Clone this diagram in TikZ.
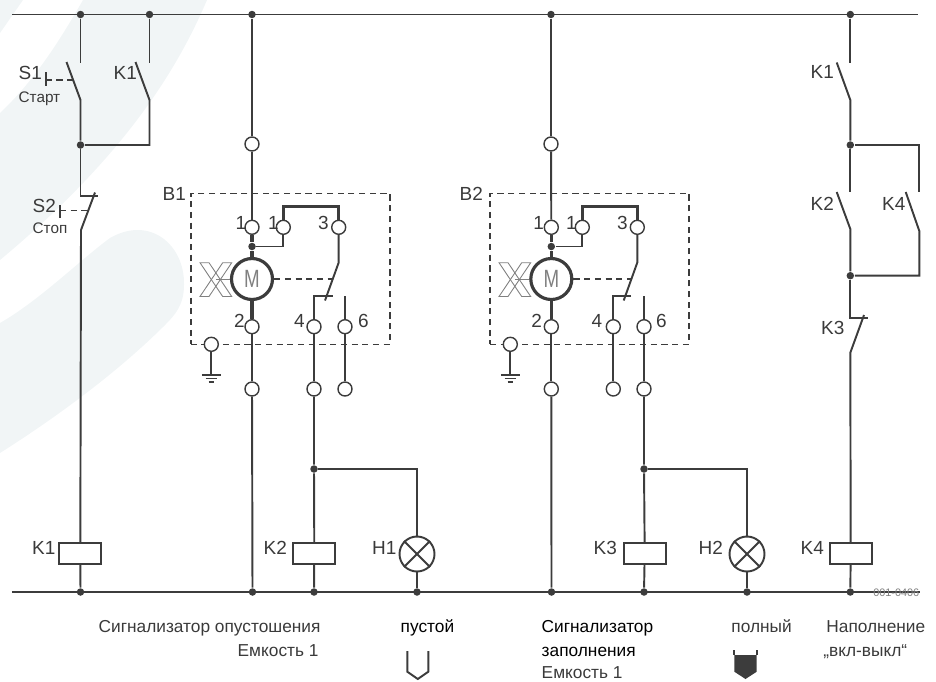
\documentclass[tikz,border=0pt]{standalone}
\usepackage{fontspec}
\setmainfont{Liberation Sans}
\definecolor{wirecol}{HTML}{3C3C3C}
\definecolor{paper}{HTML}{F1F5F6}
\definecolor{txtcol}{HTML}{3A3A3A}
\tikzset{
  wire/.style={draw=wirecol,line width=0.55pt},
  heavy/.style={draw=wirecol,line width=0.9pt},
  thinwire/.style={draw=wirecol,line width=0.4pt},
  dashline/.style={draw=wirecol,line width=0.45pt,dash pattern=on 1.75pt off 1.3pt},
  dot/.style={shape=circle,fill=wirecol,inner sep=0pt,minimum size=0.075cm},
  term/.style={shape=circle,draw=wirecol,fill=white,line width=0.4pt,inner sep=0pt,minimum size=0.14cm},
  coil/.style={shape=rectangle,wire,fill=white,inner sep=0pt,minimum width=0.42cm,minimum height=0.21cm},
  lamp/.style={shape=circle,wire,fill=white,inner sep=0pt,minimum size=0.35cm},
  motor/.style={shape=circle,heavy,fill=white,inner sep=0pt,minimum size=0.41cm,text=gray,font=\fontsize{7.1}{8}\selectfont},
  sensorbox/.style={shape=rectangle,dashline,inner sep=0pt,minimum width=1.993cm,minimum height=1.51cm},
  lab/.style={text=txtcol,inner sep=0pt,font=\fontsize{5.4}{6.4}\selectfont},
  sublab/.style={text=txtcol,inner sep=0pt,font=\fontsize{4.35}{5.2}\selectfont},
  captxt/.style={text=txtcol,inner sep=0pt,font=\fontsize{4.92}{6}\selectfont},
  capdark/.style={captxt,text=black},
  vane/.style={draw=gray,line width=0.25pt}
}
\begin{document}
\begin{tikzpicture}[x=1cm,y=-1cm]
    \useasboundingbox (0,0) rectangle (9.36,6.81);
    % pale background
    \fill [paper] (0,0) -- (0.23,0) -- (0,0.33) -- cycle;
    \fill [paper] (0.83,0) -- (2.07,0) .. controls (1.75,0.75) and (1.2,1.6) .. (0,2.6) -- (0,1.13) .. controls (0.35,0.8) and (0.6,0.4) .. (0.83,0) -- cycle;
    \fill [paper] (0,3.23) .. controls (0.4,3) and (0.8,2.6) .. (1.1,2.38) .. controls (1.5,2.15) and (1.85,2.45) .. (1.84,2.85) .. controls (1.84,3.05) and (1.75,3.15) .. (1.65,3.25) .. controls (1.2,3.7) and (0.6,4.15) .. (0,4.53) -- cycle;

    % buses
    \coordinate (TopLeft) at (0.12,0.145);
    \coordinate (TopRight) at (9.18,0.145);
    \coordinate (BotLeft) at (0.12,5.92);
    \coordinate (BotRight) at (9.2,5.92);
    \draw [wire] (TopLeft) -- (TopRight);
    \draw [wire] (BotLeft) -- (BotRight);
    \node[dot] (TopA) at (0.805,0.145) {};
    \node[dot] (TopB) at (1.495,0.145) {};
    \node[dot] (TopC) at (2.52,0.145) {};
    \node[dot] (TopD) at (5.51,0.145) {};
    \node[dot] (TopE) at (8.503,0.145) {};
    \node[dot] (BotA) at (0.805,5.92) {};
    \node[dot] (BotC) at (2.525,5.92) {};
    \node[dot] (BotK2) at (3.14,5.92) {};
    \node[dot] (BotH1) at (4.17,5.92) {};
    \node[dot] (BotD) at (5.515,5.92) {};
    \node[dot] (BotK3) at (6.44,5.92) {};
    \node[dot] (BotH2) at (7.47,5.92) {};
    \node[dot] (BotE) at (8.503,5.92) {};

    % start and stop branch
    \coordinate (S1Open) at (0.805,0.625);
    \coordinate (S1Tip) at (0.665,0.62);
    \coordinate (S1Hinge) at (0.805,1.0);
    \coordinate (K1Open) at (1.495,0.625);
    \coordinate (K1Tip) at (1.355,0.62);
    \coordinate (K1Hinge) at (1.495,1.0);
    \coordinate (K1Corner) at (1.495,1.45);
    \node[dot] (JoinA) at (0.805,1.45) {};
    \coordinate (S2Rest) at (0.805,1.957);
    \coordinate (S2Stop) at (0.98,1.957);
    \coordinate (S2Tip) at (0.95,1.925);
    \coordinate (S2Hinge) at (0.81,2.3);
    \node[coil] (CoilK1) at (0.803,5.535) {};
    \draw [wire] (TopA) -- (S1Open);
    \draw [wire] (S1Tip) -- (S1Hinge) -- (JoinA);
    \draw [wire] (TopB) -- (K1Open);
    \draw [wire] (K1Tip) -- (K1Hinge) -- (K1Corner) -- (JoinA);
    \draw [wire] (JoinA) -- (S2Rest) -- (S2Stop);
    \draw [wire] (S2Tip) -- (S2Hinge) -- (CoilK1);
    \draw [wire] (CoilK1) -- (BotA);

    % push buttons
    \coordinate (S1PushA) at (0.457,0.72);
    \coordinate (S1PushB) at (0.457,0.86);
    \coordinate (S1PushC) at (0.457,0.8);
    \coordinate (S1PushD) at (0.73,0.8);
    \coordinate (S2PushA) at (0.6,2.05);
    \coordinate (S2PushB) at (0.6,2.18);
    \coordinate (S2PushC) at (0.6,2.105);
    \coordinate (S2PushD) at (0.875,2.105);
    \draw [wire] (S1PushA) -- (S1PushB);
    \draw [dashline] (S1PushC) -- (S1PushD);
    \draw [wire] (S2PushA) -- (S2PushB);
    \draw [dashline] (S2PushC) -- (S2PushD);

    % sensor B1
    \node[sensorbox] (BoxB1) at (2.904,2.688) {};
    \node[term] (InB1) at (2.52,1.44) {};
    \node[term] (TermOneB1) at (2.52,2.273) {};
    \node[term] (TermOneBisB1) at (2.833,2.273) {};
    \node[term] (TermThreeB1) at (3.387,2.273) {};
    \node[term] (TermTwoB1) at (2.52,3.267) {};
    \node[term] (TermFourB1) at (3.14,3.267) {};
    \node[term] (TermSixB1) at (3.45,3.267) {};
    \node[term] (GndB1) at (2.113,3.443) {};
    \node[term] (OutTwoB1) at (2.52,3.89) {};
    \node[term] (OutFourB1) at (3.14,3.89) {};
    \node[term] (OutSixB1) at (3.45,3.89) {};
    \node[dot] (JoinB1) at (2.52,2.465) {};
    \node[motor] (MotorB1) at (2.52,2.79) {\scalebox{0.75}[1]{M}};
    \coordinate (BridgeAB1) at (2.833,2.065);
    \coordinate (BridgeBB1) at (3.387,2.065);
    \coordinate (LinkB1) at (2.833,2.465);
    \coordinate (HingeB1) at (3.387,2.625);
    \coordinate (TipB1) at (3.25,3.005);
    \coordinate (RestLB1) at (3.14,2.96);
    \coordinate (RestRB1) at (3.327,2.96);
    \coordinate (OpenB1) at (3.45,2.96);
    \coordinate (DashB1) at (3.317,2.79);
    \draw [wire] (TopC) -- (InB1);
    \draw [wire] (InB1) -- (TermOneB1);
    \draw [heavy] (TermOneB1) -- (JoinB1) -- (MotorB1);
    \draw [heavy] (MotorB1) -- (TermTwoB1);
    \draw [heavy] (TermOneBisB1) -- (BridgeAB1) -- (BridgeBB1) -- (TermThreeB1);
    \draw [wire] (JoinB1) -- (LinkB1) -- (TermOneBisB1);
    \draw [wire] (TermThreeB1) -- (HingeB1) -- (TipB1);
    \draw [wire] (RestRB1) -- (RestLB1) -- (TermFourB1);
    \draw [wire] (OpenB1) -- (TermSixB1);
    \draw [dashline] (MotorB1) -- (DashB1);
    \draw [wire] (TermTwoB1) -- (OutTwoB1);
    \draw [wire] (TermFourB1) -- (OutFourB1);
    \draw [wire] (TermSixB1) -- (OutSixB1);
    \draw [wire] (OutTwoB1) -- (BotC);

    % paddle of B1
    \coordinate (PaddleB1) at (2.159,2.79);
    \draw [vane] (2.0,2.627) -- (2.09,2.627) -- (2.317,2.965) -- (2.227,2.965) -- cycle;
    \draw [vane] (2.317,2.627) -- (2.227,2.627) -- (2.0,2.965) -- (2.09,2.965) -- cycle;
    \draw [vane] (PaddleB1) -- (MotorB1);

    % ground of B1
    \coordinate (GndFootB1) at (2.113,3.75);
    \coordinate (GndAB1) at (2.018,3.75);
    \coordinate (GndBB1) at (2.205,3.75);
    \coordinate (GndCB1) at (2.055,3.785);
    \coordinate (GndDB1) at (2.17,3.785);
    \coordinate (GndEB1) at (2.085,3.82);
    \coordinate (GndFB1) at (2.14,3.82);
    \draw [wire] (GndB1) -- (GndFootB1);
    \draw [wire] (GndAB1) -- (GndBB1);
    \draw [thinwire] (GndCB1) -- (GndDB1);
    \draw [thinwire] (GndEB1) -- (GndFB1);

    % outputs of B1
    \node[dot] (JoinK2) at (3.14,4.69) {};
    \node[coil] (CoilK2) at (3.143,5.535) {};
    \node[lamp] (LampH1) at (4.17,5.54) {};
    \coordinate (CornerH1) at (4.17,4.69);
    \draw [wire] (OutFourB1) -- (JoinK2) -- (CoilK2);
    \draw [wire] (CoilK2) -- (BotK2);
    \draw [wire] (JoinK2) -- (CornerH1) -- (LampH1);
    \draw [wire] (LampH1) -- (BotH1);
    \draw [wire] (LampH1.north west) -- (LampH1.south east);
    \draw [wire] (LampH1.north east) -- (LampH1.south west);

    % sensor B2
    \node[sensorbox] (BoxB2) at (5.896,2.688) {};
    \node[term] (InB2) at (5.51,1.44) {};
    \node[term] (TermOneB2) at (5.513,2.273) {};
    \node[term] (TermOneBisB2) at (5.823,2.273) {};
    \node[term] (TermThreeB2) at (6.373,2.273) {};
    \node[term] (TermTwoB2) at (5.513,3.267) {};
    \node[term] (TermFourB2) at (6.133,3.267) {};
    \node[term] (TermSixB2) at (6.44,3.267) {};
    \node[term] (GndB2) at (5.103,3.443) {};
    \node[term] (OutTwoB2) at (5.513,3.89) {};
    \node[term] (OutFourB2) at (6.133,3.89) {};
    \node[term] (OutSixB2) at (6.44,3.89) {};
    \node[dot] (JoinB2) at (5.513,2.465) {};
    \node[motor] (MotorB2) at (5.513,2.79) {\scalebox{0.75}[1]{M}};
    \coordinate (BridgeAB2) at (5.823,2.065);
    \coordinate (BridgeBB2) at (6.373,2.065);
    \coordinate (LinkB2) at (5.823,2.465);
    \coordinate (HingeB2) at (6.373,2.625);
    \coordinate (TipB2) at (6.237,3.005);
    \coordinate (RestLB2) at (6.133,2.96);
    \coordinate (RestRB2) at (6.31,2.96);
    \coordinate (OpenB2) at (6.44,2.96);
    \coordinate (DashB2) at (6.31,2.79);
    \draw [wire] (TopD) -- (InB2);
    \draw [wire] (InB2) -- (TermOneB2);
    \draw [heavy] (TermOneB2) -- (JoinB2) -- (MotorB2);
    \draw [heavy] (MotorB2) -- (TermTwoB2);
    \draw [heavy] (TermOneBisB2) -- (BridgeAB2) -- (BridgeBB2) -- (TermThreeB2);
    \draw [wire] (JoinB2) -- (LinkB2) -- (TermOneBisB2);
    \draw [wire] (TermThreeB2) -- (HingeB2) -- (TipB2);
    \draw [wire] (RestRB2) -- (RestLB2) -- (TermFourB2);
    \draw [wire] (OpenB2) -- (TermSixB2);
    \draw [dashline] (MotorB2) -- (DashB2);
    \draw [wire] (TermTwoB2) -- (OutTwoB2);
    \draw [wire] (TermFourB2) -- (OutFourB2);
    \draw [wire] (TermSixB2) -- (OutSixB2);
    \draw [wire] (OutTwoB2) -- (BotD);

    % paddle of B2
    \coordinate (PaddleB2) at (5.149,2.79);
    \draw [vane] (4.99,2.627) -- (5.08,2.627) -- (5.307,2.965) -- (5.217,2.965) -- cycle;
    \draw [vane] (5.307,2.627) -- (5.217,2.627) -- (4.99,2.965) -- (5.08,2.965) -- cycle;
    \draw [vane] (PaddleB2) -- (MotorB2);

    % ground of B2
    \coordinate (GndFootB2) at (5.103,3.75);
    \coordinate (GndAB2) at (5.008,3.75);
    \coordinate (GndBB2) at (5.195,3.75);
    \coordinate (GndCB2) at (5.045,3.785);
    \coordinate (GndDB2) at (5.16,3.785);
    \coordinate (GndEB2) at (5.075,3.82);
    \coordinate (GndFB2) at (5.13,3.82);
    \draw [wire] (GndB2) -- (GndFootB2);
    \draw [wire] (GndAB2) -- (GndBB2);
    \draw [thinwire] (GndCB2) -- (GndDB2);
    \draw [thinwire] (GndEB2) -- (GndFB2);

    % outputs of B2
    \node[dot] (JoinK3) at (6.44,4.69) {};
    \node[coil] (CoilK3) at (6.447,5.535) {};
    \node[lamp] (LampH2) at (7.47,5.54) {};
    \coordinate (CornerH2) at (7.47,4.69);
    \draw [wire] (OutSixB2) -- (JoinK3) -- (CoilK3);
    \draw [wire] (CoilK3) -- (BotK3);
    \draw [wire] (JoinK3) -- (CornerH2) -- (LampH2);
    \draw [wire] (LampH2) -- (BotH2);
    \draw [wire] (LampH2.north west) -- (LampH2.south east);
    \draw [wire] (LampH2.north east) -- (LampH2.south west);

    % filling branch
    \coordinate (RKOneOpen) at (8.503,0.625);
    \coordinate (RKOneTip) at (8.367,0.625);
    \coordinate (RKOneHinge) at (8.503,1.0);
    \node[dot] (JoinR) at (8.503,1.45) {};
    \coordinate (RCornerA) at (9.193,1.45);
    \coordinate (RKFourOpen) at (9.193,1.915);
    \coordinate (RKFourTip) at (9.057,1.92);
    \coordinate (RKFourHinge) at (9.193,2.31);
    \coordinate (RCornerB) at (9.193,2.757);
    \coordinate (RKTwoOpen) at (8.503,1.915);
    \coordinate (RKTwoTip) at (8.367,1.92);
    \coordinate (RKTwoHinge) at (8.503,2.29);
    \node[dot] (JoinS) at (8.503,2.757) {};
    \coordinate (RKThreeRest) at (8.503,3.18);
    \coordinate (RKThreeStop) at (8.68,3.18);
    \coordinate (RKThreeTip) at (8.64,3.15);
    \coordinate (RKThreeHinge) at (8.503,3.527);
    \node[coil] (CoilK4) at (8.507,5.535) {};
    \draw [wire] (TopE) -- (RKOneOpen);
    \draw [wire] (RKOneTip) -- (RKOneHinge) -- (JoinR);
    \draw [wire] (JoinR) -- (RCornerA) -- (RKFourOpen);
    \draw [wire] (RKFourTip) -- (RKFourHinge) -- (RCornerB) -- (JoinS);
    \draw [wire] (JoinR) -- (RKTwoOpen);
    \draw [wire] (RKTwoTip) -- (RKTwoHinge) -- (JoinS);
    \draw [wire] (JoinS) -- (RKThreeRest) -- (RKThreeStop);
    \draw [wire] (RKThreeTip) -- (RKThreeHinge) -- (CoilK4);
    \draw [wire] (CoilK4) -- (BotE);

    % level symbols
    \coordinate (EmptyA) at (4.073,6.51);
    \coordinate (EmptyB) at (4.073,6.717);
    \coordinate (EmptyC) at (4.178,6.79);
    \coordinate (EmptyD) at (4.283,6.717);
    \coordinate (EmptyE) at (4.283,6.51);
    \draw [wire] (EmptyA) -- (EmptyB) -- (EmptyC) -- (EmptyD) -- (EmptyE);
    \coordinate (FullA) at (7.343,6.5);
    \coordinate (FullB) at (7.343,6.717);
    \coordinate (FullC) at (7.455,6.79);
    \coordinate (FullD) at (7.567,6.717);
    \coordinate (FullE) at (7.567,6.5);
    \coordinate (FullF) at (7.567,6.55);
    \coordinate (FullG) at (7.343,6.55);
    \fill [wirecol] (FullG) -- (FullB) -- (FullC) -- (FullD) -- (FullF) -- cycle;
    \draw [wire] (FullA) -- (FullG);
    \draw [wire] (FullE) -- (FullF);

    % labels
    \node[lab,anchor=base west] (LabS1) at (0.18,0.79) {S1};
    \node[sublab,anchor=base west] (LabStart) at (0.18,1.02) {Старт};
    \node[lab,anchor=base west] (LabK1a) at (1.13,0.79) {K1};
    \node[lab,anchor=base west] (LabS2) at (0.32,2.12) {S2};
    \node[sublab,anchor=base west] (LabStop) at (0.32,2.33) {Стоп};
    \node[lab,anchor=base west] (LabB1) at (1.62,2.0) {B1};
    \node[lab,anchor=base west] (LabB2) at (4.59,2.0) {B2};
    \node[lab,anchor=base] at (2.41,2.29) {1};
    \node[lab,anchor=base] at (2.733,2.29) {1};
    \node[lab,anchor=base] at (3.235,2.29) {3};
    \node[lab,anchor=base] at (2.395,3.27) {2};
    \node[lab,anchor=base] at (2.995,3.27) {4};
    \node[lab,anchor=base] at (3.635,3.27) {6};
    \node[lab,anchor=base] at (5.387,2.29) {1};
    \node[lab,anchor=base] at (5.715,2.29) {1};
    \node[lab,anchor=base] at (6.223,2.29) {3};
    \node[lab,anchor=base] at (5.367,3.27) {2};
    \node[lab,anchor=base] at (5.97,3.27) {4};
    \node[lab,anchor=base] at (6.613,3.27) {6};
    \node[lab,anchor=base west] (LabK1b) at (0.315,5.54) {K1};
    \node[lab,anchor=base west] (LabK2) at (2.63,5.54) {K2};
    \node[lab,anchor=base west] (LabH1) at (3.715,5.54) {H1};
    \node[lab,anchor=base west] (LabK3) at (5.93,5.54) {K3};
    \node[lab,anchor=base west] (LabH2) at (6.98,5.54) {H2};
    \node[lab,anchor=base west] (LabK4) at (8.0,5.54) {K4};
    \node[lab,anchor=base west] (LabK1c) at (8.1,0.78) {K1};
    \node[lab,anchor=base west] (LabK2b) at (8.1,2.107) {K2};
    \node[lab,anchor=base west] (LabK4b) at (8.815,2.107) {K4};
    \node[lab,anchor=base west] (LabK3b) at (8.205,3.34) {K3};
    \node[text=gray,inner sep=0pt,anchor=base east,font=\fontsize{3.1}{4}\selectfont] (LabCode) at (9.2,5.965) {001-0406};

    % captions
    \node[captxt,anchor=base west] (CapEmptying) at (0.98,6.32) {Сигнализатор опустошения};
    \node[captxt,anchor=base west] (CapTankA) at (2.37,6.56) {Емкость 1};
    \node[capdark,anchor=base west] (CapEmpty) at (4.0,6.32) {пустой};
    \node[capdark,anchor=base west] (CapFilling) at (5.41,6.32) {Сигнализатор};
    \node[capdark,anchor=base west] (CapFillingB) at (5.41,6.56) {заполнения};
    \node[captxt,anchor=base west] (CapTankB) at (5.41,6.78) {Емкость 1};
    \node[captxt,anchor=base west] (CapFull) at (7.307,6.32) {полный};
    \node[captxt,anchor=base west] (CapFill) at (8.257,6.32) {Наполнение};
    \node[captxt,anchor=base west] (CapOnOff) at (8.227,6.56) {„вкл-выкл“};
\end{tikzpicture}
\end{document}
